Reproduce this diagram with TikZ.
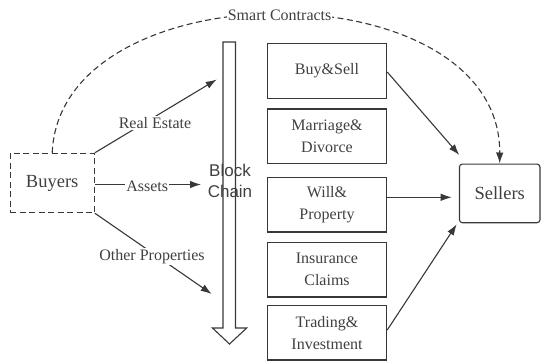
\documentclass[tikz,border=0pt]{standalone}
\usepackage{fontspec}
\setmainfont{Liberation Serif}
\newfontfamily\bcfont{Liberation Sans}
\usetikzlibrary{arrows.meta}
\begin{document}
\begin{tikzpicture}[x=1pt,y=-1pt,
  ink/.style={draw=black!78, line width=1.1pt},
  arr/.style={ink, -{Latex[length=11pt,width=7.5pt]}},
  dsh/.style={dash pattern=on 6pt off 3.5pt},
  stage/.style={ink, minimum width=119.4pt, minimum height=54.5pt, inner sep=0pt, align=center, font=\fontsize{16}{22}\selectfont, text=black!75},
  party/.style={ink, inner sep=0pt, font=\fontsize{18.5}{22}\selectfont, text=black!75},
  lbl/.style={fill=white, inner sep=1pt, font=\fontsize{16}{19}\selectfont, text=black!75}
]
\useasboundingbox (0,0) rectangle (541,362);

% block chain arrow
\draw[ink, fill=white] (223,42) -- (235.5,42) -- (235.5,328) -- (246.7,328) -- (229.5,344) -- (212.5,328) -- (223,328) -- cycle;
\node[align=center, font=\bcfont\fontsize{17}{21}\selectfont, text=black!75] (bc) at (230,181) {Block\\Chain};

% stages
\node[stage] (buy) at (327,70.8) {Buy\&Sell};
\node[stage] (mar) at (327,136.2) {Marriage\&\\Divorce};
\node[stage] (will) at (327,204.7) {Will\&\\Property};
\node[stage] (ins) at (327,269.7) {Insurance\\Claims};
\node[stage] (trd) at (327,332.7) {Trading\&\\Investment};

% parties
\node[party, dsh, minimum width=84.3pt, minimum height=59.4pt] (buyers) at (52.2,183) {Buyers};
\node[party, rounded corners=3pt, minimum width=80.5pt, minimum height=58.7pt] (sellers) at (499.7,193.4) {Sellers};

% coordinates for free ends
\coordinate (reTip) at (216.7,79.5);
\coordinate (asTip) at (201,184.5);
\coordinate (opTip) at (211.7,294);

% buyers to block chain
\draw[arr] (buyers.north east) -- (reTip);
\node[lbl] (re) at (155,123) {Real Estate};
\draw[arr] (buyers.east |- asTip) -- (asTip);
\node[lbl] (as) at (147.2,186) {Assets};
\draw[arr] (buyers.south east) -- (opTip);
\node[lbl] (op) at (152,256.5) {Other Properties};

% smart contracts
\draw[ink, dsh, -{Latex[length=11pt,width=7.5pt]}] (buyers.north) .. controls (60,-33) and (500.5,-33) .. (sellers.north);
\node[lbl] (sc) at (279.6,15.5) {Smart Contracts};

% stages to sellers
\draw[arr] (buy.east |- 0,72) -- (459.3,155);
\draw[arr] (will.east |- 0,197.3) -- (451.7,197.3);
\draw[arr] (trd.east |- 0,330) -- (456.7,224.3);
\end{tikzpicture}
\end{document}
